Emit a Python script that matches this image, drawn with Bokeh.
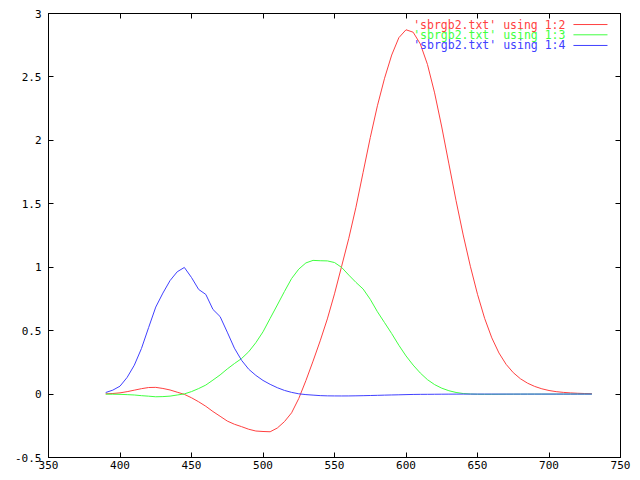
from bokeh.plotting import figure
from bokeh.models import Range1d, LinearAxis, FixedTicker, Label, Arrow
from bokeh.embed import file_html
from bokeh.resources import INLINE

# Stiles & Burch 2-degree RGB colour matching functions (sbrgb2.txt)
wavelength = list(range(390, 735, 5))
r_bar = [0.0018397, 0.0046153, 0.0096264, 0.018979, 0.030803, 0.042459, 0.051662, 0.052837,
         0.044287, 0.03222, 0.014763, -0.0023392, -0.02913, -0.060677, -0.096224, -0.13759,
         -0.17486, -0.2126, -0.2378, -0.25674, -0.27727, -0.29125, -0.295, -0.29706,
         -0.26759, -0.21725, -0.14768, -0.035184, 0.10614, 0.25981, 0.41976, 0.59259,
         0.79004, 1.0078, 1.2283, 1.4727, 1.7476, 2.0214, 2.2724, 2.4896,
         2.6725, 2.8093, 2.8717, 2.8525, 2.7601, 2.5989, 2.3743, 2.1054,
         1.8145, 1.5247, 1.2543, 1.0076, 0.78642, 0.59659, 0.4432, 0.3241,
         0.23455, 0.16884, 0.12086, 0.085811, 0.06026, 0.04148, 0.028114, 0.019117,
         0.013371, 0.0092281, 0.0063459, 0.0043419, 0.002979]
g_bar = [-0.00045393, -0.0010464, -0.0021689, -0.0044304, -0.0072048, -0.012579, -0.016651, -0.02124,
         -0.019936, -0.016097, -0.0073457, 0.001369, 0.01961, 0.043464, 0.070954, 0.11022,
         0.15088, 0.19794, 0.24042, 0.27993, 0.33353, 0.40521, 0.4906, 0.59673,
         0.70184, 0.80852, 0.91076, 0.98482, 1.0339, 1.0538, 1.0512, 1.0498,
         1.0368, 0.99826, 0.93783, 0.88039, 0.82835, 0.74686, 0.6493, 0.56317,
         0.47675, 0.38484, 0.30069, 0.22853, 0.16575, 0.11373, 0.074682, 0.046504,
         0.026394, 0.012715, 0.0041746, 0.0003377, -0.0012349, -0.0017698, -0.0016095, -0.001335,
         -0.0010107, -0.00076047, -0.00055935, -0.00039866, -0.00027968, -0.00019117, -0.00013093, -8.8888e-05,
         -6.2659e-05, -4.335e-05, -2.9729e-05, -2.03e-05, -1.39e-05]
b_bar = [0.012152, 0.03111, 0.062371, 0.13161, 0.2275, 0.35897, 0.52396, 0.68586,
         0.79604, 0.89459, 0.96395, 0.99814, 0.91875, 0.82487, 0.78554, 0.66723,
         0.61098, 0.48829, 0.36195, 0.26634, 0.19593, 0.1473, 0.10749, 0.076714,
         0.050248, 0.028781, 0.013309, 0.002117, -0.0041574, -0.0083032, -0.012191, -0.014039,
         -0.014681, -0.014947, -0.014613, -0.013782, -0.01265, -0.011356, -0.0099317, -0.0084148,
         -0.007021, -0.0057437, -0.0042743, -0.0029132, -0.0022693, -0.0019966, -0.0015069, -0.00093822,
         -0.00055316, -0.00031668, -0.00014319, -4.077e-05, 1.38e-06, 1.43e-05, 2.0254e-05, 2.1511e-05,
         1.8542e-05, 1.5192e-05, 1.1543e-05, 8.3931e-06, 6.0361e-06, 4.2562e-06, 2.9343e-06, 2.0046e-06,
         1.3814e-06, 9.55e-07, 6.56e-07, 4.48e-07, 3.07e-07]

series_labels = ["'sbrgb2.txt' using 1:2", "'sbrgb2.txt' using 1:3", "'sbrgb2.txt' using 1:4"]
series_colors = ["#ff4040", "#40ff40", "#4040ff"]

x_ticks = [350, 400, 450, 500, 550, 600, 650, 700, 750]
y_ticks = [-0.5, 0, 0.5, 1, 1.5, 2, 2.5, 3]
y_tick_labels = ["-0.5", "0", "0.5", "1", "1.5", "2", "2.5", "3"]

FONT = "DejaVu Sans Mono"
FS = "11px"

p = figure(width=640, height=480, output_backend="svg", toolbar_location=None,
           x_range=Range1d(350, 750), y_range=Range1d(-0.5, 3),
           x_axis_location=None, y_axis_location=None,
           min_border_left=48, min_border_right=20, min_border_top=13, min_border_bottom=23)
p.grid.visible = False
p.outline_line_color = "black"
p.outline_line_width = 1
p.background_fill_color = "white"
p.border_fill_color = "white"


def style(ax, show_labels):
    ax.axis_line_color = "black"
    ax.major_tick_in = 5
    ax.major_tick_out = 0
    ax.minor_tick_line_color = None
    ax.major_tick_line_color = "black"
    if show_labels:
        ax.major_label_text_font = FONT
        ax.major_label_text_font_size = FS
        ax.major_label_text_color = "black"
    else:
        ax.major_label_text_font_size = "0px"
        ax.major_label_text_alpha = 0
        ax.major_label_text_color = None
        ax.major_label_standoff = 0


xb = LinearAxis(ticker=FixedTicker(ticks=x_ticks))
style(xb, True)
xb.major_label_standoff = 3
p.add_layout(xb, "below")

yl = LinearAxis(ticker=FixedTicker(ticks=y_ticks))
style(yl, True)
yl.major_label_standoff = 7
yl.major_label_overrides = {v: s for v, s in zip(y_ticks, y_tick_labels)}
p.add_layout(yl, "left")

xa = LinearAxis(ticker=FixedTicker(ticks=x_ticks))
style(xa, False)
p.add_layout(xa, "above")

yr = LinearAxis(ticker=FixedTicker(ticks=y_ticks))
style(yr, False)
p.add_layout(yr, "right")

for ys, c in zip([r_bar, g_bar, b_bar], series_colors):
    p.line(wavelength, ys, line_color=c, line_width=1)

# gnuplot-style key: text right-aligned, sample line to its right
key_y = [2.913, 2.832, 2.748]
for lbl, c, ky in zip(series_labels, series_colors, key_y):
    p.add_layout(Label(x=711.5, y=ky, text=lbl, text_align="right", text_baseline="middle",
                       text_font=FONT, text_font_size="11.5px", text_color=c))
    p.add_layout(Arrow(end=None, x_start=717.1, y_start=ky, x_end=740.9, y_end=ky,
                       line_color=c, line_width=1))

open("out.html", "w").write(file_html(p, INLINE))
